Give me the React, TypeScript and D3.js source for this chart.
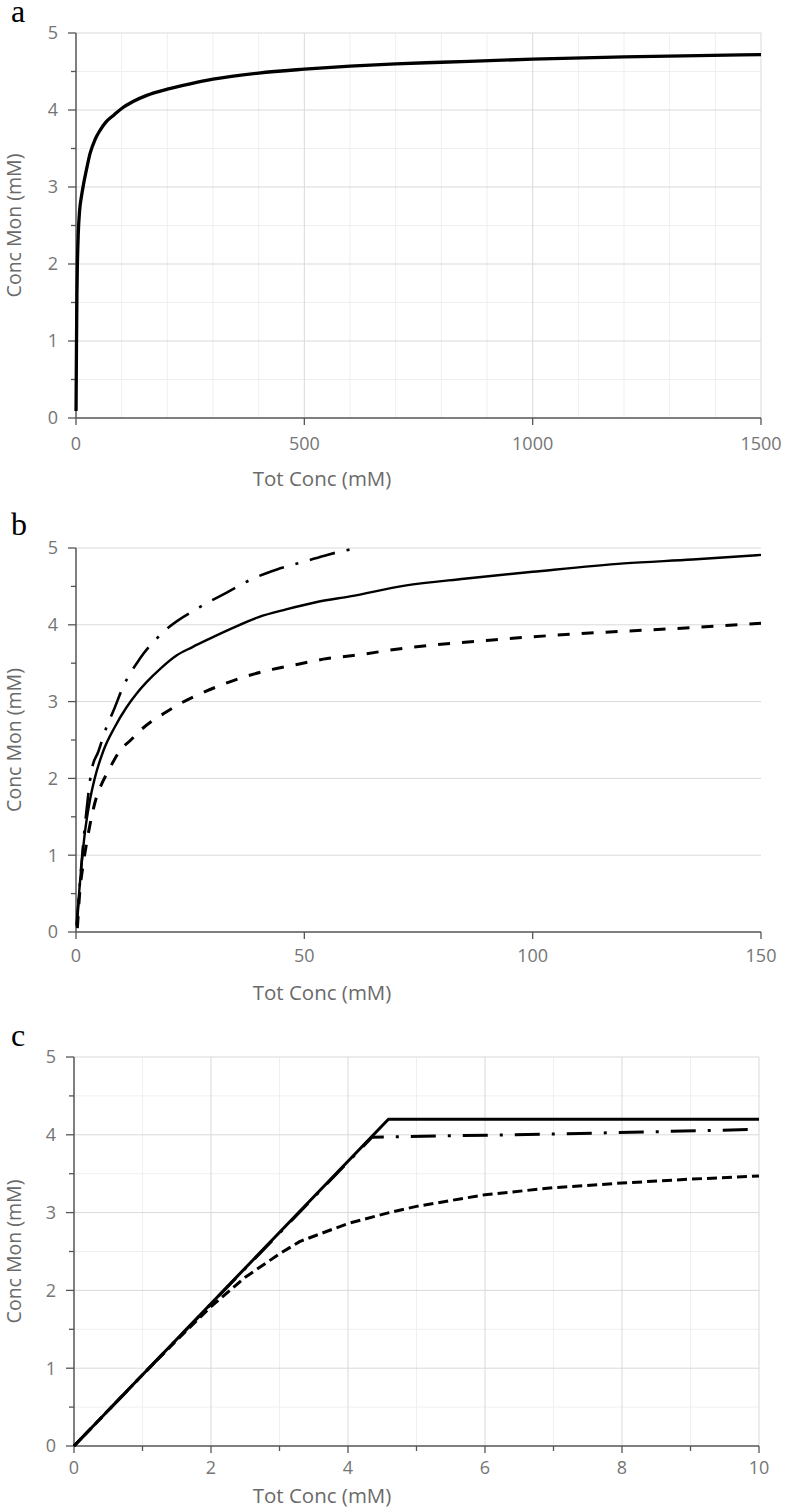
import React from "react";
import * as d3 from "d3";

// ---------- DATA ----------
// Panel a
const aTot = [0.1, 1, 2, 3, 5, 8, 12, 16, 22, 31, 42, 53, 65, 82, 100, 125, 155, 200, 250, 300, 400, 500, 600, 700, 800, 1000, 1200, 1500];
const aMon = [0.09, 0.9, 1.6, 1.98, 2.4, 2.7, 2.88, 3.02, 3.2, 3.44, 3.62, 3.74, 3.84, 3.93, 4.02, 4.11, 4.19, 4.27, 4.34, 4.4, 4.48, 4.53, 4.57, 4.6, 4.62, 4.66, 4.69, 4.72];

// Panel b
const bTotSolid = [0.1, 0.9, 2, 3, 4.1, 6, 8.5, 11, 13.2, 15.4, 18.5, 22, 25.5, 29.3, 34, 40, 46, 53, 60, 72, 85, 100, 120, 135, 150];
const bMonSolid = [0.08, 0.67, 1.32, 1.7, 2.0, 2.36, 2.67, 2.92, 3.1, 3.25, 3.43, 3.6, 3.71, 3.82, 3.95, 4.1, 4.2, 4.3, 4.37, 4.51, 4.6, 4.69, 4.8, 4.85, 4.91];
const bTotDashed = [0.3, 0.8, 1.6, 2.3, 3.1, 4.5, 5.8, 7.1, 9.6, 12, 14, 16.5, 19.1, 23, 27.1, 32, 37.3, 43, 48.9, 55, 60.7, 72.4, 90.6, 108.9, 130.8, 150];
const bMonDashed = [0.05, 0.5, 0.89, 1.15, 1.41, 1.76, 1.95, 2.1, 2.36, 2.5, 2.62, 2.74, 2.84, 2.98, 3.1, 3.22, 3.33, 3.42, 3.49, 3.56, 3.6, 3.7, 3.8, 3.88, 3.95, 4.02];
const bTotDashDot = [0.2, 0.9, 2.0, 3.4, 4.9, 6.7, 8.2, 10.3, 14, 19.4, 27.1, 33, 38.7, 44, 50.4, 55, 59.1, 62];
const bMonDashDot = [0.1, 0.67, 1.41, 2.1, 2.35, 2.67, 2.88, 3.19, 3.56, 3.92, 4.23, 4.42, 4.6, 4.72, 4.83, 4.91, 4.97, 5.0];

// Panel c
const cTotSolid = [0, 4.59, 10];
const cMonSolid = [0, 4.2, 4.2];
const cTotDashDot = [0, 4.35, 7, 10];
const cMonDashDot = [0, 3.97, 4.01, 4.07];
const cTotDashed = [0, 1, 1.5, 2, 2.5, 3, 3.3, 4, 4.6, 5, 6, 7, 8, 9, 10];
const cMonDashed = [0, 0.915, 1.36, 1.79, 2.17, 2.47, 2.63, 2.86, 3.0, 3.08, 3.23, 3.32, 3.38, 3.43, 3.47];

// Ticks
const yTicks = [0, 1, 2, 3, 4, 5];
const yMinorTicks = [0.5, 1.5, 2.5, 3.5, 4.5];
const aXTicks = [0, 500, 1000, 1500];
const bXTicks = [0, 50, 100, 150];
const cXTicks = [0, 2, 4, 6, 8, 10];
const cXMinorTicks = [1, 3, 5, 7, 9];
const aXMinorGrid = [100, 200, 300, 400, 600, 700, 800, 900, 1100, 1200, 1300, 1400];

const xTitle = "Tot Conc (mM)";
const yTitle = "Conc Mon (mM)";

// ---------- STYLES ----------
const FONT = "'Open Sans', 'Noto Sans', sans-serif";
const TICK_COLOR = "#757575";
const TITLE_COLOR = "#6a6a6a";
const AXIS_COLOR = "#555555";
const GRID_MAJOR = "#d9d9d9";
const GRID_MINOR = "#efefef";

type Series = { xs: number[]; ys: number[]; width: number; dash?: string };

type PanelCfg = {
  letter: string;
  letterY: number;
  left: number;
  right: number;
  top: number;
  bottom: number;
  xMax: number;
  xTicks: number[];
  xMinorTicks: number[];
  vMajorGrid: number[];
  vMinorGrid: number[];
  hMinorGrid: boolean;
  tickLabelDy: number;
  titleDy: number;
  smooth: boolean;
  series: Series[];
};

const panels: PanelCfg[] = [
  {
    letter: "a",
    letterY: 22,
    left: 76,
    right: 761,
    top: 33,
    bottom: 418,
    xMax: 1500,
    xTicks: aXTicks,
    xMinorTicks: [],
    vMajorGrid: aXTicks.slice(1),
    vMinorGrid: aXMinorGrid,
    hMinorGrid: true,
    tickLabelDy: 32,
    titleDy: 68,
    smooth: true,
    series: [{ xs: aTot, ys: aMon, width: 3.3 }],
  },
  {
    letter: "b",
    letterY: 535,
    left: 76,
    right: 761,
    top: 548,
    bottom: 932,
    xMax: 150,
    xTicks: bXTicks,
    xMinorTicks: [],
    vMajorGrid: [],
    vMinorGrid: [],
    hMinorGrid: false,
    tickLabelDy: 30,
    titleDy: 68,
    smooth: true,
    series: [
      { xs: bTotSolid, ys: bMonSolid, width: 2.4 },
      { xs: bTotDashed, ys: bMonDashed, width: 3, dash: "12 12" },
      { xs: bTotDashDot, ys: bMonDashDot, width: 2.6, dash: "26 12 3 12" },
    ],
  },
  {
    letter: "c",
    letterY: 1046,
    left: 74,
    right: 759,
    top: 1057,
    bottom: 1446,
    xMax: 10,
    xTicks: cXTicks,
    xMinorTicks: cXMinorTicks,
    vMajorGrid: cXTicks.slice(1),
    vMinorGrid: cXMinorTicks,
    hMinorGrid: true,
    tickLabelDy: 28,
    titleDy: 57,
    smooth: false,
    series: [
      { xs: cTotSolid, ys: cMonSolid, width: 3 },
      { xs: cTotDashDot, ys: cMonDashDot, width: 3, dash: "25 12 3 12" },
      { xs: cTotDashed, ys: cMonDashed, width: 3, dash: "10 5" },
    ],
  },
];

const Panel = ({ cfg }: { cfg: PanelCfg }) => {
  const x = d3.scaleLinear().domain([0, cfg.xMax]).range([cfg.left, cfg.right]);
  const y = d3.scaleLinear().domain([0, 5]).range([cfg.bottom, cfg.top]);
  const line = d3
    .line<[number, number]>()
    .x((d) => x(d[0]))
    .y((d) => y(d[1]))
    .curve(cfg.smooth ? d3.curveMonotoneX : d3.curveLinear);
  const fmt = d3.format("d");
  const yMid = (cfg.top + cfg.bottom) / 2;

  return (
    <g>
      <text x={11} y={cfg.letterY} fontFamily="'Liberation Serif', 'Times New Roman', serif" fontSize={32} fill="#000">
        {cfg.letter}
      </text>
      {/* minor grid */}
      {cfg.hMinorGrid &&
        yMinorTicks.map((v) => (
          <line key={"hm" + v} x1={cfg.left} x2={cfg.right} y1={y(v)} y2={y(v)} stroke={GRID_MINOR} strokeWidth={1} />
        ))}
      {cfg.vMinorGrid.map((v) => (
        <line key={"vm" + v} x1={x(v)} x2={x(v)} y1={cfg.top} y2={cfg.bottom} stroke={GRID_MINOR} strokeWidth={1} />
      ))}
      {/* major grid */}
      {yTicks.slice(1).map((v) => (
        <line key={"hM" + v} x1={cfg.left} x2={cfg.right} y1={y(v)} y2={y(v)} stroke={GRID_MAJOR} strokeWidth={1} />
      ))}
      {cfg.vMajorGrid.map((v) => (
        <line key={"vM" + v} x1={x(v)} x2={x(v)} y1={cfg.top} y2={cfg.bottom} stroke={GRID_MAJOR} strokeWidth={1} />
      ))}
      {/* axes */}
      <line x1={cfg.left} x2={cfg.left} y1={cfg.top} y2={cfg.bottom} stroke={AXIS_COLOR} strokeWidth={1.5} />
      <line x1={cfg.left} x2={cfg.right} y1={cfg.bottom} y2={cfg.bottom} stroke={AXIS_COLOR} strokeWidth={1.5} />
      {yTicks.map((v) => (
        <g key={"yt" + v}>
          <line x1={cfg.left - 8} x2={cfg.left} y1={y(v)} y2={y(v)} stroke={AXIS_COLOR} strokeWidth={1.3} />
          <text
            x={cfg.left - 18}
            y={y(v)}
            dy="0.35em"
            textAnchor="end"
            fontFamily={FONT}
            fontSize={18}
            fill={TICK_COLOR}
          >
            {fmt(v)}
          </text>
        </g>
      ))}
      {yMinorTicks.map((v) => (
        <line key={"ym" + v} x1={cfg.left - 5} x2={cfg.left} y1={y(v)} y2={y(v)} stroke={AXIS_COLOR} strokeWidth={1.3} />
      ))}
      {cfg.xTicks.map((v) => (
        <g key={"xt" + v}>
          <line x1={x(v)} x2={x(v)} y1={cfg.bottom} y2={cfg.bottom + 7} stroke={AXIS_COLOR} strokeWidth={1.3} />
          <text
            x={x(v)}
            y={cfg.bottom + cfg.tickLabelDy}
            textAnchor="middle"
            fontFamily={FONT}
            fontSize={18}
            fill={TICK_COLOR}
          >
            {fmt(v)}
          </text>
        </g>
      ))}
      {cfg.xMinorTicks.map((v) => (
        <line key={"xm" + v} x1={x(v)} x2={x(v)} y1={cfg.bottom} y2={cfg.bottom + 5} stroke={AXIS_COLOR} strokeWidth={1.3} />
      ))}
      {/* titles */}
      <text
        x={322}
        y={cfg.bottom + cfg.titleDy}
        textAnchor="middle"
        fontFamily={FONT}
        fontSize={20.5}
        fill={TITLE_COLOR}
      >
        {xTitle}
      </text>
      <text
        transform={`translate(21,${yMid}) rotate(-90)`}
        textAnchor="middle"
        fontFamily={FONT}
        fontSize={19.5}
        fill={TITLE_COLOR}
      >
        {yTitle}
      </text>
      {/* series */}
      {cfg.series.map((s, i) => {
        const pts = s.xs.map((xv, j) => [xv, s.ys[j]] as [number, number]);
        return (
          <path
            key={"s" + i}
            d={line(pts) || ""}
            fill="none"
            stroke="#000"
            strokeWidth={s.width}
            strokeDasharray={s.dash}
            strokeLinejoin="round"
          />
        );
      })}
    </g>
  );
};

export default function App() {
  return (
    <div style={{ position: "absolute", left: 0, top: 0 }}>
      <svg width={788} height={1512} viewBox="0 0 788 1512" style={{ display: "block", background: "#fff" }}>
        <rect x={0} y={0} width={788} height={1512} fill="#fff" />
        {panels.map((p) => (
          <Panel key={p.letter} cfg={p} />
        ))}
      </svg>
    </div>
  );
}
